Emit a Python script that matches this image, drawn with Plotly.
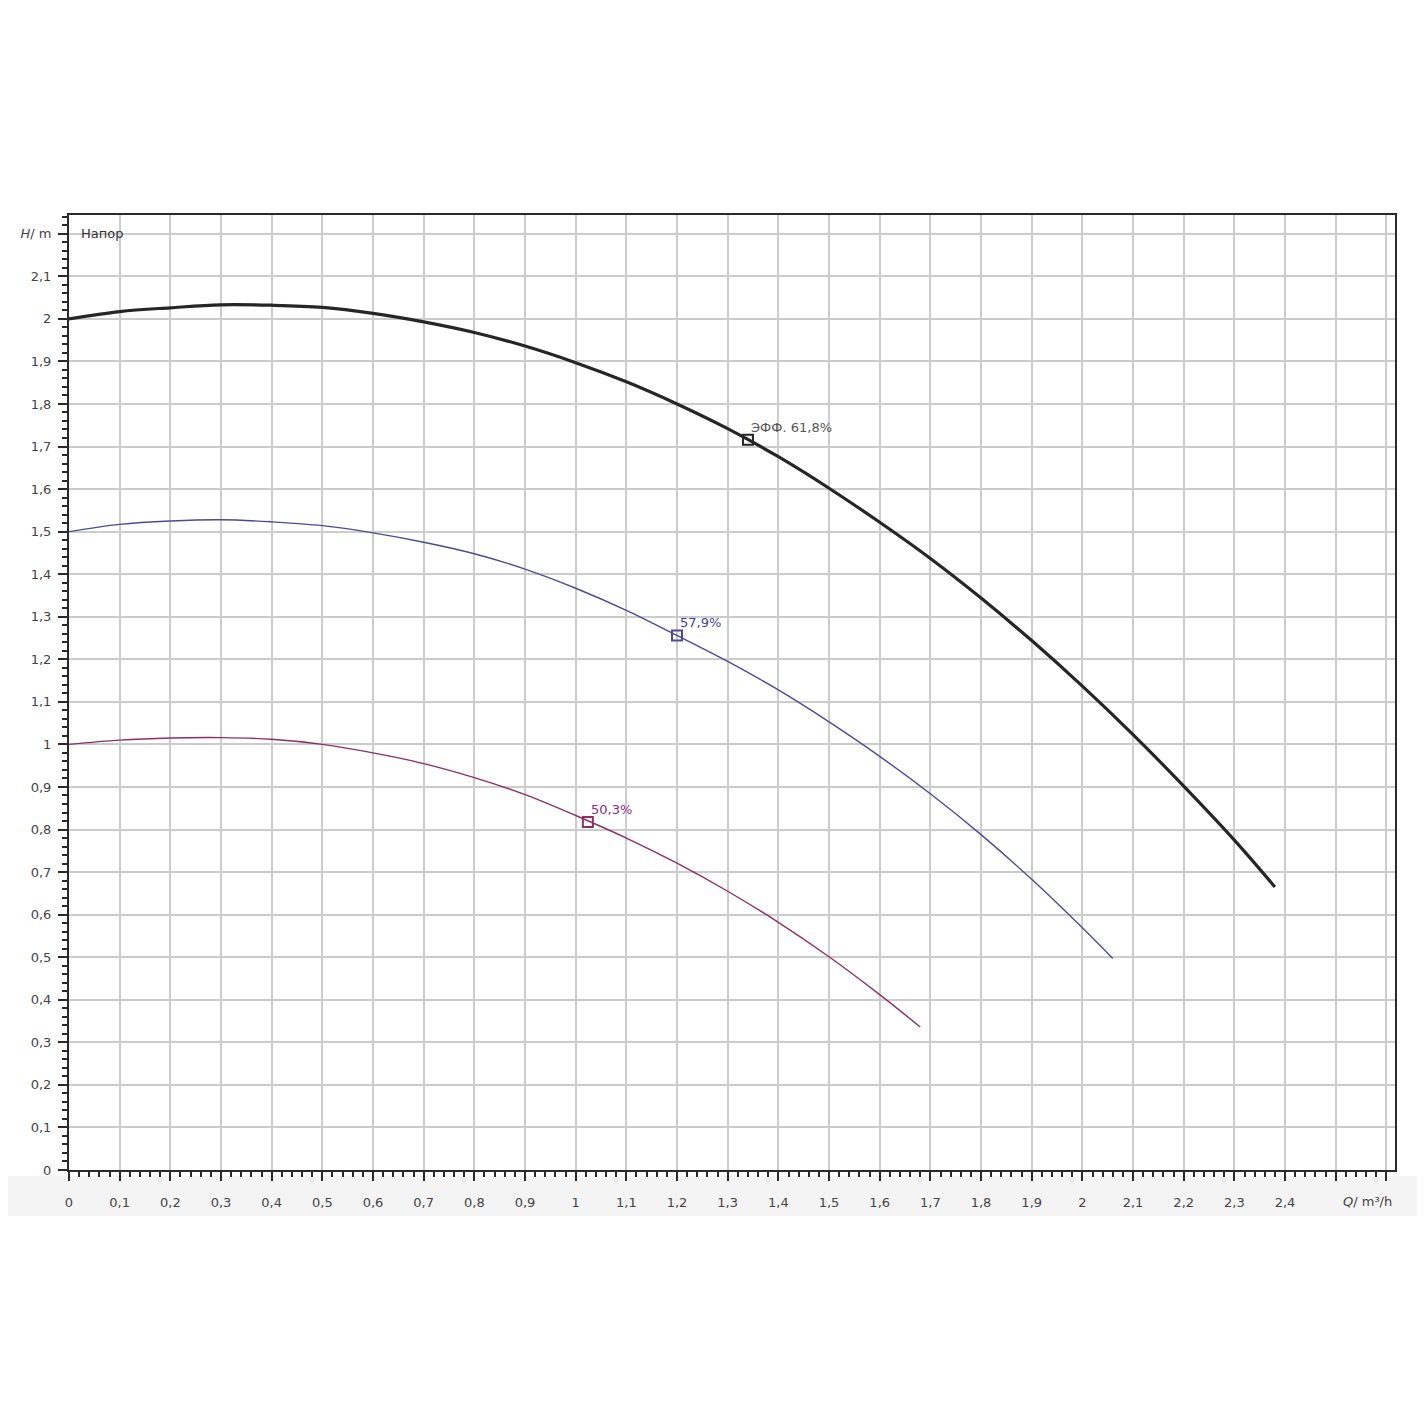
import plotly.graph_objects as go

# ---- data ----
q_full = [0, 0.1, 0.2, 0.3, 0.4, 0.5, 0.6, 0.7, 0.8, 0.9, 1.0, 1.1, 1.2,
          1.3, 1.4, 1.5, 1.6, 1.7, 1.8, 1.9, 2.0, 2.1, 2.2, 2.3, 2.38]
h_full = [2.0, 2.017, 2.026, 2.033, 2.032, 2.027, 2.013, 1.993, 1.968, 1.936,
          1.897, 1.852, 1.800, 1.742, 1.676, 1.602, 1.522, 1.437, 1.344, 1.244,
          1.137, 1.023, 0.902, 0.775, 0.665]

q_mid = [0, 0.1, 0.2, 0.3, 0.4, 0.5, 0.6, 0.7, 0.8, 0.9, 1.0, 1.1, 1.2,
         1.3, 1.4, 1.5, 1.6, 1.7, 1.8, 1.9, 2.0, 2.06]
h_mid = [1.5, 1.517, 1.525, 1.528, 1.523, 1.514, 1.497, 1.475, 1.448, 1.412,
         1.367, 1.315, 1.256, 1.195, 1.128, 1.053, 0.972, 0.884, 0.788, 0.683,
         0.569, 0.497]

q_low = [0, 0.1, 0.2, 0.3, 0.4, 0.5, 0.6, 0.7, 0.8, 0.9, 1.0, 1.1, 1.2,
         1.3, 1.4, 1.5, 1.6, 1.68]
h_low = [1.0, 1.01, 1.015, 1.016, 1.012, 1.0, 0.98, 0.955, 0.922, 0.882,
         0.833, 0.780, 0.721, 0.655, 0.582, 0.501, 0.412, 0.336]

# best-efficiency points
bep_q = [1.34, 1.2, 1.024]
bep_h = [1.716, 1.256, 0.818]
bep_labels = ["ЭФФ. 61,8%", "57,9%", "50,3%"]

x_tickvals = [round(i * 0.1, 1) for i in range(27)]
x_ticktext = ["0", "0,1", "0,2", "0,3", "0,4", "0,5", "0,6", "0,7", "0,8", "0,9",
              "1", "1,1", "1,2", "1,3", "1,4", "1,5", "1,6", "1,7", "1,8", "1,9",
              "2", "2,1", "2,2", "2,3", "2,4", "", ""]
y_tickvals = [round(i * 0.1, 1) for i in range(23)]
y_ticktext = ["0", "0,1", "0,2", "0,3", "0,4", "0,5", "0,6", "0,7", "0,8", "0,9",
              "1", "1,1", "1,2", "1,3", "1,4", "1,5", "1,6", "1,7", "1,8", "1,9",
              "2", "2,1", "<i>H</i>/ m"]

colors = ["#262626", "#4a4a9c", "#8e2f63"]
text_colors = ["#555555", "#3f3fa8", "#8a2a8a"]
widths = [3.2, 1.4, 1.4]

fig = go.Figure()

# faint grey band under the x-axis labels (as in the reference photo)
fig.add_shape(type="rect", xref="paper", yref="paper", layer="below",
              x0=-66 / 1329, x1=1.03, y0=-46 / 955, y1=-6 / 955,
              fillcolor="#f4f4f4", line=dict(width=0))

for q, h, c, w in zip([q_full, q_mid, q_low], [h_full, h_mid, h_low], colors, widths):
    fig.add_trace(go.Scatter(x=q, y=h, mode="lines",
                             line=dict(color=c, width=w, shape="spline", smoothing=1.0),
                             showlegend=False, hoverinfo="skip"))

for i in range(3):
    fig.add_trace(go.Scatter(x=[bep_q[i]], y=[bep_h[i]], mode="markers",
                             marker=dict(symbol="square-open", size=10,
                                         color=colors[i], line=dict(width=2, color=colors[i])),
                             showlegend=False, hoverinfo="skip"))
    fig.add_annotation(x=bep_q[i], y=bep_h[i], text=bep_labels[i], showarrow=False,
                       xanchor="left", yanchor="bottom", xshift=1, yshift=3,
                       font=dict(family="DejaVu Sans", size=13, color=text_colors[i]))

fig.add_annotation(x=0.02, y=2.2, text="Напор", showarrow=False,
                   xanchor="left", yanchor="middle",
                   font=dict(family="DejaVu Sans", size=13, color="#333333"))

fig.add_annotation(xref="paper", yref="paper", x=(1367 - 66) / (1395 - 66), y=-31 / 955,
                   text="<i>Q</i>/ m³/h", showarrow=False, xanchor="center", yanchor="middle",
                   font=dict(family="DejaVu Sans", size=13, color="#444444"))

axis_common = dict(showline=True, linecolor="#2a2a2a", linewidth=2, mirror=True,
                   showgrid=True, gridcolor="#cccccc", gridwidth=1.5,
                   ticks="outside", ticklen=9, tickwidth=2, tickcolor="#2a2a2a",
                   tickfont=dict(family="DejaVu Sans", size=13, color="#444444"),
                   zeroline=False, tickmode="array")

fig.update_xaxes(range=[0, 2.617], tickvals=x_tickvals, ticktext=x_ticktext,
                 minor=dict(dtick=0.02, tick0=0, ticks="outside", ticklen=5,
                            tickwidth=1.5, tickcolor="#2a2a2a", showgrid=False),
                 ticklabelstandoff=10, **axis_common)
fig.update_yaxes(range=[0, 2.244], tickvals=y_tickvals, ticktext=y_ticktext,
                 minor=dict(dtick=0.02, tick0=0, ticks="outside", ticklen=5,
                            tickwidth=1.5, tickcolor="#2a2a2a", showgrid=False),
                 ticklabelstandoff=4, **axis_common)

fig.update_layout(width=1425, height=1425,
                  margin=dict(l=58, r=38, t=207, b=263),
                  paper_bgcolor="white", plot_bgcolor="white",
                  font=dict(family="DejaVu Sans"))

fig.write_html("out.html")
